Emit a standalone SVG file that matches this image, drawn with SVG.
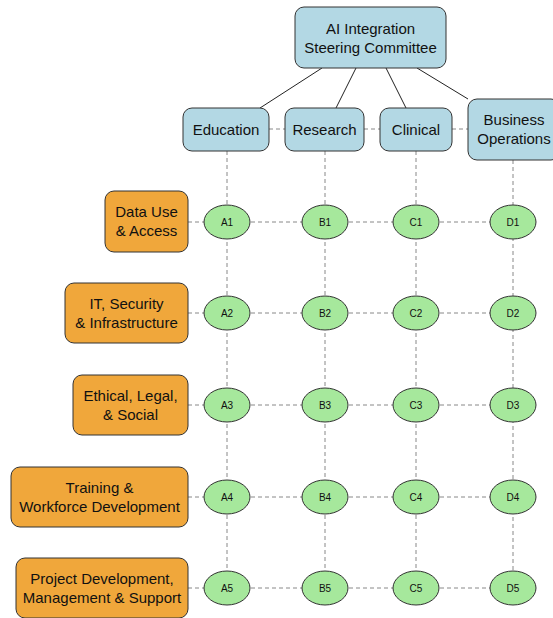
<svg xmlns="http://www.w3.org/2000/svg" width="553" height="618" viewBox="0 0 553 618">
<style>
.t{font-family:"Liberation Sans",Arial,sans-serif;font-size:15px;fill:#111;text-anchor:middle}
.s{font-family:"Liberation Sans",Arial,sans-serif;font-size:10px;fill:#111;text-anchor:middle}
.blue{fill:#b3d8e4;stroke:#333;stroke-width:1}
.org{fill:#f0a73b;stroke:#333;stroke-width:1}
.grn{fill:#a6e89c;stroke:#333;stroke-width:1}
.d{stroke:#888;stroke-width:1;stroke-dasharray:4 3;fill:none}
.l{stroke:#222;stroke-width:1;fill:none}
</style>
<rect width="553" height="618" fill="#fff"/>
<g id="connectors">
<line class="l" x1="322" y1="68" x2="260" y2="108"/>
<line class="l" x1="356" y1="68" x2="336" y2="108"/>
<line class="l" x1="386" y1="68" x2="406" y2="108"/>
<line class="l" x1="417" y1="68" x2="468" y2="99"/>
<line class="d" x1="269" y1="129" x2="285" y2="129"/>
<line class="d" x1="364" y1="129" x2="380" y2="129"/>
<line class="d" x1="452" y1="129" x2="468" y2="129"/>
<line class="d" x1="227" y1="151" x2="227" y2="588"/>
<line class="d" x1="325" y1="151" x2="325" y2="588"/>
<line class="d" x1="416" y1="151" x2="416" y2="588"/>
<line class="d" x1="513" y1="160" x2="513" y2="588"/>
<line class="d" x1="188" y1="222" x2="513" y2="222"/>
<line class="d" x1="188" y1="313" x2="513" y2="313"/>
<line class="d" x1="188" y1="405" x2="513" y2="405"/>
<line class="d" x1="188" y1="497" x2="513" y2="497"/>
<line class="d" x1="188" y1="588" x2="513" y2="588"/>
</g>
<g id="steering"><rect class="blue" x="295" y="7" width="151" height="61" rx="9"/><text class="t" x="370.5" y="34">AI Integration</text><text class="t" x="370.5" y="53">Steering Committee</text></g>
<g id="education"><rect class="blue" x="183" y="108" width="86" height="43" rx="9"/><text class="t" x="226" y="134.5">Education</text></g>
<g id="research"><rect class="blue" x="285" y="108" width="79" height="43" rx="9"/><text class="t" x="324.5" y="134.5">Research</text></g>
<g id="clinical"><rect class="blue" x="380" y="108" width="72" height="43" rx="9"/><text class="t" x="416" y="134.5">Clinical</text></g>
<g id="business"><rect class="blue" x="468" y="99" width="92" height="61" rx="9"/><text class="t" x="514" y="125">Business</text><text class="t" x="514" y="144">Operations</text></g>
<g id="data"><rect class="org" x="105" y="191" width="83" height="61" rx="9"/><text class="t" x="146.5" y="217">Data Use</text><text class="t" x="146.5" y="236">&amp; Access</text></g>
<g id="it"><rect class="org" x="65" y="283" width="123" height="60" rx="9"/><text class="t" x="126.5" y="309">IT, Security</text><text class="t" x="126.5" y="328">&amp; Infrastructure</text></g>
<g id="ethical"><rect class="org" x="73" y="375" width="115" height="60" rx="9"/><text class="t" x="130.5" y="401">Ethical, Legal,</text><text class="t" x="130.5" y="420">&amp; Social</text></g>
<g id="training"><rect class="org" x="11" y="467" width="177" height="60" rx="9"/><text class="t" x="99.5" y="493">Training &amp;</text><text class="t" x="99.5" y="512">Workforce Development</text></g>
<g id="project"><rect class="org" x="16" y="558" width="172" height="60" rx="9"/><text class="t" x="102" y="584">Project Development,</text><text class="t" x="102" y="603">Management &amp; Support</text></g>
<g id="A1"><ellipse class="grn" cx="227" cy="222" rx="23" ry="17"/><text class="s" x="227" y="225.5">A1</text></g>
<g id="B1"><ellipse class="grn" cx="325" cy="222" rx="23" ry="17"/><text class="s" x="325" y="225.5">B1</text></g>
<g id="C1"><ellipse class="grn" cx="416" cy="222" rx="23" ry="17"/><text class="s" x="416" y="225.5">C1</text></g>
<g id="D1"><ellipse class="grn" cx="513" cy="222" rx="23" ry="17"/><text class="s" x="513" y="225.5">D1</text></g>
<g id="A2"><ellipse class="grn" cx="227" cy="313" rx="23" ry="17"/><text class="s" x="227" y="316.5">A2</text></g>
<g id="B2"><ellipse class="grn" cx="325" cy="313" rx="23" ry="17"/><text class="s" x="325" y="316.5">B2</text></g>
<g id="C2"><ellipse class="grn" cx="416" cy="313" rx="23" ry="17"/><text class="s" x="416" y="316.5">C2</text></g>
<g id="D2"><ellipse class="grn" cx="513" cy="313" rx="23" ry="17"/><text class="s" x="513" y="316.5">D2</text></g>
<g id="A3"><ellipse class="grn" cx="227" cy="405" rx="23" ry="17"/><text class="s" x="227" y="408.5">A3</text></g>
<g id="B3"><ellipse class="grn" cx="325" cy="405" rx="23" ry="17"/><text class="s" x="325" y="408.5">B3</text></g>
<g id="C3"><ellipse class="grn" cx="416" cy="405" rx="23" ry="17"/><text class="s" x="416" y="408.5">C3</text></g>
<g id="D3"><ellipse class="grn" cx="513" cy="405" rx="23" ry="17"/><text class="s" x="513" y="408.5">D3</text></g>
<g id="A4"><ellipse class="grn" cx="227" cy="497" rx="23" ry="17"/><text class="s" x="227" y="500.5">A4</text></g>
<g id="B4"><ellipse class="grn" cx="325" cy="497" rx="23" ry="17"/><text class="s" x="325" y="500.5">B4</text></g>
<g id="C4"><ellipse class="grn" cx="416" cy="497" rx="23" ry="17"/><text class="s" x="416" y="500.5">C4</text></g>
<g id="D4"><ellipse class="grn" cx="513" cy="497" rx="23" ry="17"/><text class="s" x="513" y="500.5">D4</text></g>
<g id="A5"><ellipse class="grn" cx="227" cy="588" rx="23" ry="17"/><text class="s" x="227" y="591.5">A5</text></g>
<g id="B5"><ellipse class="grn" cx="325" cy="588" rx="23" ry="17"/><text class="s" x="325" y="591.5">B5</text></g>
<g id="C5"><ellipse class="grn" cx="416" cy="588" rx="23" ry="17"/><text class="s" x="416" y="591.5">C5</text></g>
<g id="D5"><ellipse class="grn" cx="513" cy="588" rx="23" ry="17"/><text class="s" x="513" y="591.5">D5</text></g>
</svg>
